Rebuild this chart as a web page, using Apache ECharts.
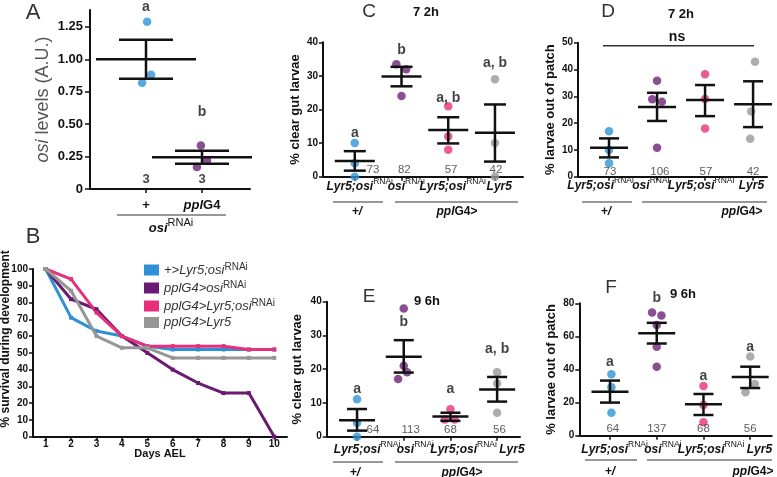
<!DOCTYPE html>
<html><head><meta charset="utf-8">
<script src="https://cdn.jsdelivr.net/npm/echarts@6/dist/echarts.min.js"></script>
<style>html,body{margin:0;padding:0;background:#fff}#c{width:777px;height:477px}</style>
</head><body><div id="c"></div>
<script>
// ================= DATA =================
// Panel A : osi levels
const aGroups = ['+', 'pplG4'];
const aPoints = [[1.29, 0.88, 0.82], [0.335, 0.22, 0.17]];
const aJitter = [[0.02, 0.09, -0.07], [-0.02, 0.09, -0.09]];
const aMean = [1.0, 0.245];
const aLow = [0.85, 0.195];
const aHigh = [1.15, 0.295];
const aSig = ['a', 'b'];
const aSigY = [1.40, 0.59];
const aN = ['3', '3'];
const aNY = 0.07;
const aTicks = [0, 0.25, 0.5, 0.75, 1.0, 1.25];

// Panel B : survival
const days = ['1', '2', '3', '4', '5', '6', '7', '8', '9', '10'];
const seriesNames = ['+>Lyr5;osiRNAi', 'pplG4>osiRNAi', 'pplG4>Lyr5;osiRNAi', 'pplG4>Lyr5'];
const survBlue = [100, 71, 63, 60, 54, 52, 52, 52, 52, 52];
const survPurple = [100, 82, 76, 60, 50, 40, 32, 26, 26, 0];
const survPink = [100, 94, 74, 60, 54, 54, 54, 54, 52, 52];
const survGray = [100, 87, 60, 53, 53, 47, 47, 47, 47, 47];

// Genotype categories for C-F
const genoMain = ['Lyr5;osi', 'osi', 'Lyr5;osi', 'Lyr5'];
const genoSup = ['RNAi', 'RNAi', 'RNAi', ''];

// Panel C : 72h clear gut
const cPoints = [[10, 4, 0], [33.5, 32, 24], [21, 12, 8], [29, 10, 0]];
const cJitter = [[0, 0, 0], [-0.11, 0.1, 0], [0, 0, 0], [0, 0, 0]];
const cMean = [4.7, 29.8, 13.9, 13.1];
const cLow = [1.8, 26.9, 9.9, 4.5];
const cHigh = [7.6, 32.7, 17.7, 21.5];
const cSig = ['a', 'b', 'a, b', 'a, b'];
const cSigY = [13, 37.7, 23.4, 33.8];
const cN = ['73', '82', '57', '42'];
const cNX = [1.39, 2.06, 3.06, 4.02];
const cNY = 2;

// Panel D : 72h out of patch
const dPoints = [[17, 10, 5], [35.8, 28.9, 28, 10.8], [38.2, 29, 18], [42.9, 24.3, 14.2]];
const dJitter = [[0, 0, 0], [0, -0.1, 0.1, 0], [0, 0, 0], [0.04, -0.04, -0.06]];
const dMean = [10.8, 26, 28.6, 27];
const dLow = [7.2, 20.8, 22.6, 18.5];
const dHigh = [14.3, 31.3, 34.2, 35.6];
const dN = ['73', '106', '57', '42'];
const dNX = [1.02, 2.06, 3.02, 4.0];
const dNY = 1.75;

// Panel E : 96h clear gut
const ePoints = [[11.1, 4.1, 0], [38, 21, 19.1, 17.1], [8.1, 5.1, 5.1], [19.1, 15.8, 7.1]];
const eJitter = [[0, 0, 0], [0, 0, 0.07, -0.12], [0, -0.12, 0.09], [0, 0, 0]];
const eMean = [4.9, 23.7, 6, 14];
const eLow = [1.8, 19, 4.7, 10.4];
const eHigh = [8.2, 28.6, 7.1, 17.7];
const eSig = ['a', 'b', 'a', 'a, b'];
const eSigY = [14, 33.8, 14, 26];
const eN = ['64', '113', '68', '56'];
const eNX = [1.34, 2.15, 3.0, 4.05];
const eNY = 2;

// Panel F : 96h out of patch
const fPoints = [[37.1, 29.2, 13.9], [74.4, 72.6, 66.9, 53.8, 41.7], [30, 18.5, 8.1], [47.8, 31.2, 26.2]];
const fJitter = [[0.03, 0.03, 0.03], [-0.1, 0.1, 0, 0, 0], [0, 0, 0], [0, 0.1, -0.1]];
const fMean = [26.6, 61.9, 19, 35.5];
const fLow = [20, 55.7, 12.5, 28.8];
const fHigh = [33.3, 68.2, 25.2, 41.7];
const fSig = ['a', 'b', 'a', 'a'];
const fSigY = [44.7, 83, 36, 53.8];
const fN = ['64', '137', '68', '56'];
const fNX = [1.06, 2.0, 3.0, 4.0];
const fNY = 4;

// ================= STYLE / LAYOUT =================
const FF = '"Liberation Sans", Arial, Helvetica, sans-serif';
const INK = '#111';
const COL = ['#2d93d6', '#6e2278', '#e6337c', '#999999'];
const LINECOL = ['#2f90d5', '#6a1a70', '#e8307a', '#969696'];

const grids = [], xAxes = [], yAxes = [], series = [];

function axisBase() {
  return {
    axisLine: { show: true, onZero: false, lineStyle: { color: INK, width: 2 } },
    axisTick: { show: true, length: 4, lineStyle: { color: INK, width: 1.5 } },
    splitLine: { show: false },
    nameMoveOverlap: false
  };
}

function nearestIdx(arr, v) {
  let best = 0;
  arr.forEach((a, i) => { if (Math.abs(a - v) < Math.abs(arr[best] - v)) best = i; });
  return best;
}

const catRich = {
  b: { fontFamily: FF, fontWeight: 'bold', fontStyle: 'italic', fontSize: 12, color: INK, lineHeight: 20 },
  s: { fontFamily: FF, fontSize: 8.5, color: INK, lineHeight: 9, verticalAlign: 'top' }
};

function textSeries(gi, xs, ys, texts, style) {
  return {
    type: 'scatter', xAxisIndex: gi, yAxisIndex: gi, silent: true, clip: false, z: 5,
    symbol: 'circle', symbolSize: 0.1, itemStyle: { color: 'rgba(0,0,0,0)' },
    data: xs.map((x, i) => [x, Array.isArray(ys) ? ys[i] : ys]),
    label: Object.assign({ show: true, position: 'inside', formatter: p => texts[p.dataIndex] }, style),
    emphasis: { disabled: true }, tooltip: { show: false }
  };
}

function errSeries(gi, mean, lo, hi, mh, ch) {
  return {
    type: 'custom', xAxisIndex: gi, yAxisIndex: gi, silent: true, clip: false, z: 4,
    data: mean.map((m, i) => [i + 1, m, lo[i], hi[i]]),
    encode: { x: 0, y: [1, 2, 3] },
    renderItem: (params, api) => {
      const x = api.value(0);
      const pm = api.coord([x, api.value(1)]);
      const pl = api.coord([x, api.value(2)]);
      const ph = api.coord([x, api.value(3)]);
      const st = { stroke: INK, lineWidth: 2.5 };
      return {
        type: 'group', children: [
          { type: 'line', shape: { x1: pm[0] - mh, y1: pm[1], x2: pm[0] + mh, y2: pm[1] }, style: st },
          { type: 'line', shape: { x1: pl[0], y1: pl[1], x2: ph[0], y2: ph[1] }, style: st },
          { type: 'line', shape: { x1: pl[0] - ch, y1: pl[1], x2: pl[0] + ch, y2: pl[1] }, style: st },
          { type: 'line', shape: { x1: ph[0] - ch, y1: ph[1], x2: ph[0] + ch, y2: ph[1] }, style: st }
        ]
      };
    }
  };
}

function dotSeries(gi, pts, jit, colors) {
  const data = [];
  pts.forEach((g, gi2) => g.forEach((v, k) => data.push({ value: [gi2 + 1 + jit[gi2][k], v], itemStyle: { color: colors[gi2] } })));
  return { type: 'scatter', xAxisIndex: gi, yAxisIndex: gi, symbolSize: 8.5, clip: false, z: 3, data, silent: true };
}

// ---------- Panel A ----------
grids.push({ left: 90, top: 10, width: 160, height: 179 });
const aLabPos = [1, 2];
xAxes.push(Object.assign(axisBase(), {
  gridIndex: 0, type: 'value', min: 0, max: 2.857,
  axisTick: { show: true, length: 4, customValues: aLabPos, lineStyle: { color: INK, width: 1.5 } },
  axisLabel: {
    customValues: aLabPos, margin: 10, hideOverlap: false, showMinLabel: true, showMaxLabel: true,
    formatter: v => nearestIdx(aLabPos, v) === 0 ? '{b|' + aGroups[0] + '}' : '{i|ppl}{b|G4}',
    rich: {
      b: { fontFamily: FF, fontWeight: 'bold', fontSize: 13, color: INK },
      i: { fontFamily: FF, fontWeight: 'bold', fontStyle: 'italic', fontSize: 13, color: INK }
    }
  }
}));
yAxes.push(Object.assign(axisBase(), {
  gridIndex: 0, type: 'value', min: 0, max: 1.38,
  axisTick: { show: true, length: 5, customValues: aTicks, lineStyle: { color: INK, width: 1.5 } },
  axisLabel: {
    customValues: aTicks, margin: 7, fontFamily: FF, fontWeight: 'bold', fontSize: 13, color: INK,
    formatter: v => v === 0 ? '0' : v.toFixed(2)
  },
  name: '{i|osi} levels (A.U.)', nameLocation: 'middle', nameGap: 38,
  nameTextStyle: {
    fontFamily: FF, fontSize: 18, color: '#555',
    rich: { i: { fontFamily: FF, fontStyle: 'italic', fontSize: 18, color: '#555' } }
  }
}));
series.push(dotSeries(0, aPoints, aJitter, [COL[0], COL[1]]));
series.push(errSeries(0, aMean, aLow, aHigh, 50, 27));
series.push(textSeries(0, [1, 2], aSigY, aSig, { fontFamily: FF, fontWeight: 'bold', fontSize: 14, color: INK }));
series.push(textSeries(0, [1, 2], aNY, aN, { fontFamily: FF, fontWeight: 'bold', fontSize: 13, color: INK }));

// ---------- Panel B ----------
grids.push({ left: 33, top: 269, width: 254, height: 167.7 });
xAxes.push(Object.assign(axisBase(), {
  gridIndex: 1, type: 'category', data: days, boundaryGap: true,
  axisTick: { show: true, length: 4, alignWithLabel: true, lineStyle: { color: INK, width: 1.5 } },
  axisLabel: { fontFamily: FF, fontWeight: 'bold', fontSize: 10, color: INK, margin: 3, interval: 0 },
  name: 'Days AEL', nameLocation: 'middle', nameGap: 12,
  nameTextStyle: { fontFamily: FF, fontWeight: 'bold', fontSize: 11, color: INK }
}));
yAxes.push(Object.assign(axisBase(), {
  gridIndex: 1, type: 'value', min: 0, max: 100, interval: 10,
  axisLabel: { fontFamily: FF, fontWeight: 'bold', fontSize: 10, color: INK, margin: 5 },
  name: '% survival during development', nameLocation: 'middle', nameGap: 21,
  nameTextStyle: { fontFamily: FF, fontWeight: 'bold', fontSize: 12, color: INK, padding: [0, 0, 0, 28] }
}));
[survBlue, survPurple, survPink, survGray].forEach((d, i) => {
  series.push({
    type: 'line', name: seriesNames[i], xAxisIndex: 1, yAxisIndex: 1, data: d,
    symbol: 'rect', symbolSize: 4, showSymbol: true,
    lineStyle: { color: LINECOL[i], width: 3 }, itemStyle: { color: LINECOL[i] },
    z: 3 + (i === 3 ? 1 : 0), silent: true
  });
});

// ---------- Panels C-F ----------
const labelGrids = [];
function scatterPanel(gi, g, xr, yMax, yInt, yName, nameGap, labBand, labMargin, P) {
  grids.push(g);
  xAxes.push(Object.assign(axisBase(), {
    gridIndex: gi, type: 'value', min: xr[0], max: xr[1],
    axisTick: { show: true, length: 4, customValues: [1, 2, 3, 4], lineStyle: { color: INK, width: 1.5 } },
    axisLabel: { show: false }
  }));
  yAxes.push(Object.assign(axisBase(), {
    gridIndex: gi, type: 'value', min: 0, max: yMax, interval: yInt,
    axisLabel: { fontFamily: FF, fontWeight: 'bold', fontSize: 10, color: INK, margin: 5 },
    name: yName, nameLocation: 'middle', nameGap: nameGap,
    nameTextStyle: { fontFamily: FF, fontWeight: 'bold', fontSize: 13, color: INK }
  }));
  series.push(dotSeries(gi, P.pts, P.jit, COL));
  series.push(errSeries(gi, P.mean, P.lo, P.hi, P.mh, P.ch));
  if (P.sig) series.push(textSeries(gi, [1, 2, 3, 4], P.sigY, P.sig, { fontFamily: FF, fontWeight: 'bold', fontSize: 14, color: INK }));
  series.push(textSeries(gi, P.nx, P.ny, P.n, { fontFamily: FF, fontSize: 11.5, color: '#333' }));
  labelGrids.push({ grid: { left: labBand[0], width: labBand[1], top: g.top, height: g.height }, margin: labMargin });
}

scatterPanel(2, { left: 323, top: 42.3, width: 200, height: 134.4 }, [0.32, 4.6], 40, 10, '% clear gut larvae', 21,
  [336.5, 186], 0,
  { pts: cPoints, jit: cJitter, mean: cMean, lo: cLow, hi: cHigh, mh: 20, ch: 11, sig: cSig, sigY: cSigY, n: cN, nx: cNX, ny: cNY });
scatterPanel(3, { left: 578, top: 42.7, width: 189, height: 134 }, [0.354, 4.29], 50, 10, '% larvae out of patch', 21,
  [575.5, 201], -1,
  { pts: dPoints, jit: dJitter, mean: dMean, lo: dLow, hi: dHigh, mh: 19, ch: 10, sig: null, n: dN, nx: dNX, ny: dNY });
scatterPanel(4, { left: 326.7, top: 301.7, width: 193.3, height: 135 }, [0.35, 4.49], 40, 10, '% clear gut larvae', 23,
  [343, 193], 3,
  { pts: ePoints, jit: eJitter, mean: eMean, lo: eLow, hi: eHigh, mh: 18, ch: 10, sig: eSig, sigY: eSigY, n: eN, nx: eNX, ny: eNY });
scatterPanel(5, { left: 579.3, top: 303.3, width: 192.4, height: 132.4 }, [0.343, 4.46], 80, 20, '% larvae out of patch', 21,
  [590.5, 193], 4,
  { pts: fPoints, jit: fJitter, mean: fMean, lo: fLow, hi: fHigh, mh: 18.5, ch: 10, sig: fSig, sigY: fSigY, n: fN, nx: fNX, ny: fNY });

// genotype label axes (category axes sharing the panels' bottom edge)
labelGrids.forEach((lg, k) => {
  const gi = grids.length;
  grids.push(lg.grid);
  xAxes.push({
    gridIndex: gi, type: 'category', data: genoMain, boundaryGap: true, position: 'bottom',
    axisLine: { show: false }, axisTick: { show: false }, splitLine: { show: false },
    axisLabel: {
      interval: 0, margin: lg.margin, hideOverlap: false,
      formatter: (v, i) => '{b|' + v + '}' + (genoSup[i] ? '{s|' + genoSup[i] + '}' : ''),
      rich: catRich
    }
  });
  yAxes.push({ gridIndex: gi, type: 'value', show: false, min: 0, max: 1 });
});

grids.forEach(g => { g.outerBoundsMode = 'none'; g.containLabel = false; });

// ---------- annotations (panel letters, time points, genotype brackets) ----------
function txt(x, y, text, size, weight, extra) {
  return { type: 'text', x, y, silent: true, z: 10,
    style: Object.assign({ text, fontFamily: FF, fontSize: size, fontWeight: weight || 'normal', fill: '#222', align: 'center', verticalAlign: 'middle' }, extra || {}) };
}
function hline(x1, x2, y, w) {
  return { type: 'line', silent: true, z: 10, shape: { x1, y1: y, x2, y2: y }, style: { stroke: '#333', lineWidth: w || 1.2 } };
}
const grpRich = {
  i: { fontFamily: FF, fontWeight: 'bold', fontStyle: 'italic', fontSize: 12, fill: INK },
  b: { fontFamily: FF, fontWeight: 'bold', fontSize: 12, fill: INK }
};
function rtxt(x, y, text) { return txt(x, y, text, 12, 'bold', { rich: grpRich }); }

const graphic = [
  txt(33, 13, 'A', 22, 'normal', { fill: '#333' }),
  txt(33, 237, 'B', 22, 'normal', { fill: '#333' }),
  txt(369, 12, 'C', 19, 'normal', { fill: '#333' }),
  txt(608, 12, 'D', 19, 'normal', { fill: '#333' }),
  txt(369, 297, 'E', 19, 'normal', { fill: '#333' }),
  txt(611, 288, 'F', 19, 'normal', { fill: '#333' }),
  txt(426, 12, '7 2h', 13, 'bold', { fill: INK }),
  txt(681, 14, '7 2h', 13, 'bold', { fill: INK }),
  txt(427, 301, '9 6h', 13, 'bold', { fill: INK }),
  txt(683, 294, '9 6h', 13, 'bold', { fill: INK }),
  // A genotype bracket
  hline(117, 226, 215, 1.2),
  txt(171, 228, '{i|osi}{s|RNAi}', 13, 'bold', { rich: {
    i: { fontFamily: FF, fontWeight: 'bold', fontStyle: 'italic', fontSize: 13, fill: INK },
    s: { fontFamily: FF, fontSize: 11, fill: INK, lineHeight: 11, padding: [0, 0, 10, 0] } } }),
  // C brackets
  hline(333, 383, 202), hline(395, 518, 202),
  rtxt(357, 212, '{i|+/}'), rtxt(457, 212, '{i|ppl}{b|G4>}'),
  // D brackets + ns
  hline(582, 632, 202), hline(642, 767, 202),
  rtxt(606, 212, '{i|+/}'), rtxt(742, 212, '{i|ppl}{b|G4>}'),
  hline(603, 754, 45.7, 1.5),
  txt(677, 37, 'ns', 14, 'bold', { fill: INK }),
  // E brackets
  hline(333, 383, 462), hline(395, 518, 462),
  rtxt(355, 473, '{i|+/}'), rtxt(462, 473, '{i|ppl}{b|G4>}'),
  // F brackets
  hline(585, 637, 460), hline(647, 772, 460),
  rtxt(610, 472, '{i|+/}'), rtxt(753, 472, '{i|ppl}{b|G4>}')
];

const legendFmt = {
  '+>Lyr5;osiRNAi': '{i|+>Lyr5;osi}{s|RNAi}',
  'pplG4>osiRNAi': '{i|pplG4>osi}{s|RNAi}',
  'pplG4>Lyr5;osiRNAi': '{i|pplG4>Lyr5;osi}{s|RNAi}',
  'pplG4>Lyr5': '{i|pplG4>Lyr5}'
};

const chart = echarts.init(document.getElementById('c'), null, { renderer: 'canvas' });
chart.setOption({
  animation: false,
  backgroundColor: '#fff',
  tooltip: { show: false },
  legend: {
    data: seriesNames, orient: 'vertical', left: 139, top: 257,
    itemWidth: 15, itemHeight: 11, itemGap: 2, icon: 'rect', selectedMode: false,
    formatter: n => legendFmt[n],
    textStyle: {
      fontFamily: FF, fontSize: 13, color: '#333',
      rich: {
        i: { fontFamily: FF, fontStyle: 'italic', fontSize: 13, color: '#333', lineHeight: 14 },
        s: { fontFamily: FF, fontSize: 10, color: '#333', lineHeight: 8, padding: [0, 0, 6, 0] }
      }
    }
  },
  grid: grids, xAxis: xAxes, yAxis: yAxes, series: series, graphic: graphic
});
</script></body></html>
